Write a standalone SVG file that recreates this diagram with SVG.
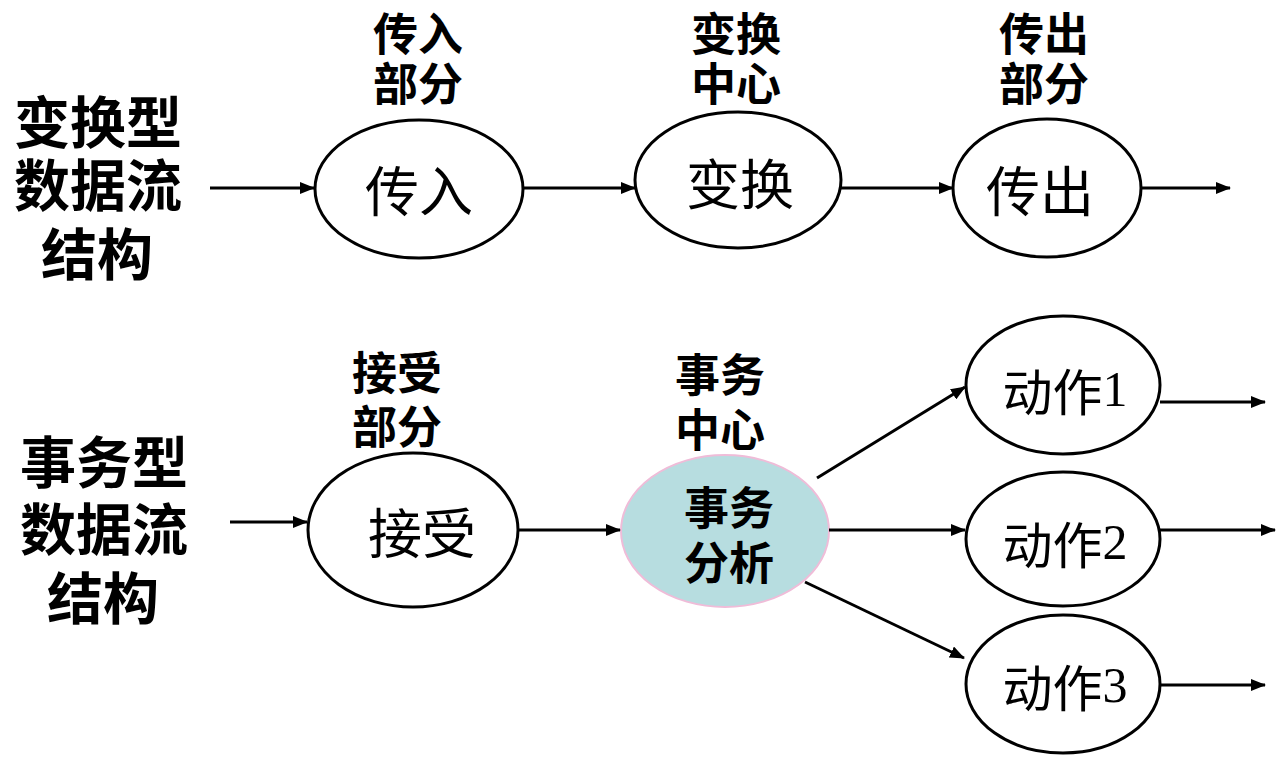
<svg xmlns="http://www.w3.org/2000/svg" width="1287" height="766" viewBox="0 0 1287 766">
<style>
  text { font-family: "Noto Sans CJK SC", "Noto Sans", sans-serif; fill: #000; text-anchor: middle; dominant-baseline: central; }
  .side { font-size: 56px; font-weight: bold; }
  .lbl { font-size: 45px; font-weight: bold; }
  .node { font-size: 54px; }
  .act { font-size: 50px; }
  .digit { font-family: "Liberation Serif", serif; }
  .ell { fill: #fff; stroke: #000; stroke-width: 3; }
  .hub { fill: #b7dde0; stroke: #efbcd8; stroke-width: 2; }
  .conn line { stroke: #000; stroke-width: 3; marker-end: url(#arr); }
</style>
<defs>
  <marker id="arr" markerUnits="userSpaceOnUse" markerWidth="16" markerHeight="12" refX="14" refY="6" orient="auto">
    <path d="M0,0 L15,6 L0,12 z" fill="#000"/>
  </marker>
</defs>
<rect width="1287" height="766" fill="#fff"/>

<g id="title-transform">
  <text class="side" x="98" y="118">变换型</text>
  <text class="side" x="98" y="181">数据流</text>
  <text class="side" x="97" y="250">结构</text>
</g>
<g id="title-transaction">
  <text class="side" x="104" y="458">事务型</text>
  <text class="side" x="104" y="525">数据流</text>
  <text class="side" x="103" y="594">结构</text>
</g>

<g id="label-in">
  <text class="lbl" x="418" y="31">传入</text>
  <text class="lbl" x="418" y="81">部分</text>
</g>
<g id="label-center">
  <text class="lbl" x="736" y="31">变换</text>
  <text class="lbl" x="736" y="81">中心</text>
</g>
<g id="label-out">
  <text class="lbl" x="1044" y="31">传出</text>
  <text class="lbl" x="1044" y="81">部分</text>
</g>
<g id="label-recv">
  <text class="lbl" x="397" y="370">接受</text>
  <text class="lbl" x="397" y="424">部分</text>
</g>
<g id="label-tcenter">
  <text class="lbl" x="720" y="372">事务</text>
  <text class="lbl" x="720" y="427">中心</text>
</g>

<g id="node-in">
  <ellipse class="ell" cx="419" cy="189" rx="104" ry="69"/>
  <text class="node" x="419" y="188">传入</text>
</g>
<g id="node-transform">
  <ellipse class="ell" cx="738" cy="180" rx="103" ry="68"/>
  <text class="node" x="740" y="181">变换</text>
</g>
<g id="node-out">
  <ellipse class="ell" cx="1047" cy="188" rx="94" ry="69"/>
  <text class="node" x="1040" y="188">传出</text>
</g>
<g id="node-recv">
  <ellipse class="ell" cx="413" cy="530" rx="105" ry="77"/>
  <text class="node" x="422" y="530">接受</text>
</g>
<g id="node-analysis">
  <ellipse class="hub" cx="725" cy="531" rx="104" ry="76"/>
  <text class="lbl" x="729" y="505">事务</text>
  <text class="lbl" x="729" y="560">分析</text>
</g>
<g id="node-act1">
  <ellipse class="ell" cx="1063" cy="385" rx="97" ry="69"/>
  <text class="act" x="1065" y="389">动作<tspan class="digit">1</tspan></text>
</g>
<g id="node-act2">
  <ellipse class="ell" cx="1063" cy="539" rx="97" ry="67"/>
  <text class="act" x="1065" y="542">动作<tspan class="digit">2</tspan></text>
</g>
<g id="node-act3">
  <ellipse class="ell" cx="1063" cy="684" rx="97" ry="69"/>
  <text class="act" x="1065" y="685">动作<tspan class="digit">3</tspan></text>
</g>

<g id="connectors" class="conn">
  <line x1="210" y1="188" x2="314" y2="188"/>
  <line x1="523" y1="188" x2="635" y2="188"/>
  <line x1="841" y1="188" x2="953" y2="188"/>
  <line x1="1141" y1="188" x2="1230" y2="188"/>
  <line x1="230" y1="522" x2="307" y2="522"/>
  <line x1="518" y1="530" x2="620" y2="530"/>
  <line x1="817" y1="478" x2="965" y2="387"/>
  <line x1="829" y1="530" x2="965" y2="530"/>
  <line x1="805" y1="582" x2="964" y2="658"/>
  <line x1="1160" y1="402" x2="1265" y2="402"/>
  <line x1="1160" y1="530" x2="1275" y2="530"/>
  <line x1="1160" y1="685" x2="1265" y2="685"/>
</g>
</svg>
